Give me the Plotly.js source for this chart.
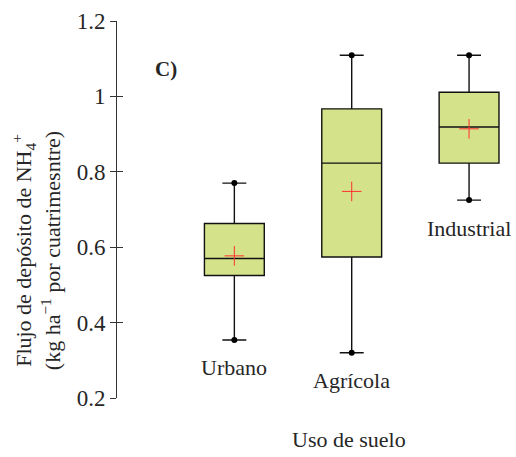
<!DOCTYPE html>
<html>
<head>
<meta charset="utf-8">
<script src="https://cdn.plot.ly/plotly-3.0.1.min.js"></script>
<style>html,body{margin:0;padding:0;background:#fff;}#chart{width:516px;height:457px;}</style>
</head>
<body>
<div id="chart"></div>
<script>
var categories = ['Urbano', 'Agrícola', 'Industrial'];
var lowerWhisker = [0.354, 0.320, 0.725];
var q1Values = [0.525, 0.574, 0.823];
var medianValues = [0.570, 0.823, 0.919];
var q3Values = [0.663, 0.967, 1.011];
var upperWhisker = [0.770, 1.109, 1.109];
var meanValues = [0.577, 0.748, 0.914];
var yTickVals = [0.2, 0.4, 0.6, 0.8, 1.0, 1.2];
var yTickText = ['0.2', '0.4', '0.6', '0.8', '1', '1.2'];

var FONT = 'Liberation Serif, Times New Roman, serif';
var TXT = '#262626';

var traces = [
  {
    type: 'box', x: categories,
    q1: q1Values, median: medianValues, q3: q3Values,
    lowerfence: lowerWhisker, upperfence: upperWhisker,
    boxpoints: false, width: 0.51, whiskerwidth: 0.4,
    fillcolor: '#d4e28a', line: {color: '#111', width: 1.4},
    hoverinfo: 'skip', showlegend: false
  },
  {
    type: 'scatter', mode: 'markers',
    x: categories.concat(categories), y: lowerWhisker.concat(upperWhisker),
    marker: {symbol: 'circle', size: 6, color: '#000'},
    hoverinfo: 'skip', showlegend: false
  },
  {
    type: 'scatter', mode: 'markers', x: categories, y: meanValues,
    marker: {symbol: 'cross-thin', size: 14, color: '#ff3030', line: {color: '#ff3030', width: 1}},
    hoverinfo: 'skip', showlegend: false
  },
  {
    type: 'scatter', mode: 'markers', x: [categories[0]], y: [meanValues[0]],
    yaxis: 'y2', marker: {opacity: 0}, hoverinfo: 'skip', showlegend: false
  }
];

var labelAnns = categories.map(function (c, i) {
  return {
    x: c, y: lowerWhisker[i], xref: 'x', yref: 'y',
    text: c, showarrow: false, xanchor: 'center', yanchor: 'middle', yshift: -28,
    font: {family: FONT, size: 22, color: TXT}
  };
});

var layout = {
  width: 516, height: 457,
  margin: {l: 117, r: 0, t: 21, b: 59},
  paper_bgcolor: '#fff', plot_bgcolor: '#fff',
  showlegend: false,
  xaxis: {
    type: 'category', categoryarray: categories, range: [-1, 2.4],
    showline: false, showgrid: false, zeroline: false,
    showticklabels: false, ticks: ''
  },
  yaxis: {
    range: [0.2, 1.2], tickvals: yTickVals, ticktext: yTickText,
    showgrid: false, zeroline: false, showline: true,
    linecolor: '#333', linewidth: 1,
    ticks: 'outside', ticklen: 6, tickcolor: '#333', tickwidth: 1,
    tickfont: {family: FONT, size: 23, color: TXT}
  },
  yaxis2: {
    overlaying: 'y', matches: 'y', range: [0.2, 1.2], tickvals: yTickVals,
    showgrid: false, zeroline: false, showline: false,
    ticks: 'inside', ticklen: 6, tickcolor: '#333', tickwidth: 1,
    showticklabels: false
  },
  annotations: labelAnns.concat([
    {
      x: 0.1228, y: 0.874, xref: 'paper', yref: 'paper', showarrow: false,
      xanchor: 'center', yanchor: 'middle',
      text: '<b>C)</b>', font: {family: FONT, size: 21, color: TXT}
    },
    {
      x: 0.5815, y: -0.1114, xref: 'paper', yref: 'paper', showarrow: false,
      xanchor: 'center', yanchor: 'middle',
      text: 'Uso de suelo', font: {family: FONT, size: 22, color: TXT}
    },
    {
      x: -0.2, y: 0.39, xref: 'paper', yref: 'paper', showarrow: false,
      xanchor: 'center', yanchor: 'middle',
      textangle: -90,
      text: 'Flujo de depósito de NH<sub>4</sub><sup>+</sup><br>(kg ha<sup>−1</sup> por cuatrimesntre)',
      font: {family: FONT, size: 22, color: TXT}
    }
  ])
};

Plotly.newPlot('chart', traces, layout, {displayModeBar: false, staticPlot: true});
</script>
</body>
</html>
